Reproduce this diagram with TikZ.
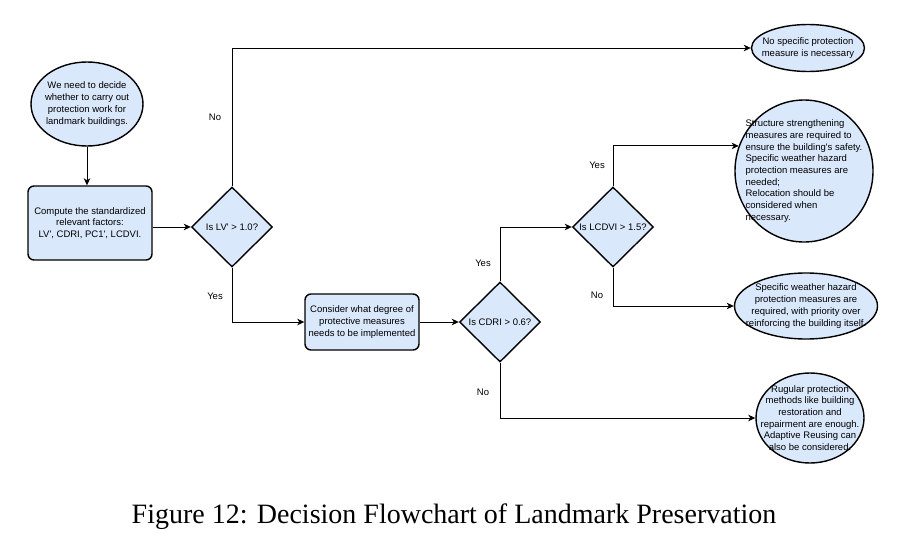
\documentclass[tikz,border=0pt]{standalone}
\usepackage{fontspec}
\setmainfont{Liberation Sans}[Ligatures=TeXOff]
\newfontfamily\capfont{Liberation Serif}
\usetikzlibrary{shapes.geometric,arrows.meta}
\definecolor{fillblue}{HTML}{DAE8FC}
\begin{document}
\begin{tikzpicture}[x=1pt,y=-1pt,
  txt/.style={font=\fontsize{9.5}{11.7}\selectfont, align=center, inner sep=0pt},
  lbl/.style={font=\fontsize{9.5}{11.7}\selectfont, inner sep=0pt},
  term/.style={ellipse, draw, line width=1.4pt, fill=fillblue, inner sep=0pt},
  proc/.style={rectangle, rounded corners=6pt, draw, line width=1.4pt, fill=fillblue, inner sep=0pt},
  decide/.style={diamond, draw, line width=1.4pt, fill=fillblue, inner sep=0pt, minimum width=81pt, minimum height=80pt},
  conn/.style={draw, line width=0.9pt, -{Stealth[length=7pt,width=6.5pt,inset=2pt]}}]
\useasboundingbox (0,0) rectangle (905,546);

% nodes
\node[term, minimum width=112pt, minimum height=84pt] (e1) at (87,104) {};
\node[txt] (e1t) at (e1.center) {We need to decide\\whether to carry out\\protection work for\\landmark buildings.};

\node[proc, minimum width=124pt, minimum height=74pt] (b1) at (90,223) {};
\node[txt] (b1t) at (b1.center) {Compute the standardized\\relevant factors:\\LV', CDRI, PC1', LCDVI.};

\node[decide] (d1) at (232,227) {};
\node[txt] (d1t) at (d1.center) {Is LV' > 1.0?};

\node[proc, minimum width=114pt, minimum height=56pt] (b2) at (362,322) {};
\node[txt] (b2t) at (b2.center) {Consider what degree of\\protective measures\\needs to be implemented};

\node[decide] (d2) at (500,322) {};
\node[txt] (d2t) at (d2.center) {Is CDRI > 0.6?};

\node[decide] (d3) at (613,227) {};
\node[txt] (d3t) at (d3.center) {Is LCDVI > 1.5?};

\node[term, minimum width=113pt, minimum height=47pt] (n1) at (808,48) {};
\node[txt] (n1t) at (n1.center) {No specific protection\\measure is necessary};

\node[term, minimum width=138pt, minimum height=142pt] (e2) at (804,171) {};
\node[txt, align=left] (e2t) at (e2.center) {Structure strengthening\\measures are required to\\ensure the building's safety.\\Specific weather hazard\\protection measures are\\needed;\\Relocation should be\\considered when\\necessary.};

\node[term, minimum width=143pt, minimum height=66pt] (e3) at (806,306) {};
\node[txt] (e3t) at (e3.center) {Specific weather hazard\\protection measures are\\required, with priority over\\reinforcing the building itself.};

\node[term, minimum width=108pt, minimum height=90pt] (e4) at (810,418) {};
\node[txt] (e4t) at (e4.center) {Rugular protection\\methods like building\\restoration and\\repairment are enough.\\Adaptive Reusing can\\also be considered.};

% connectors
\draw[conn] (e1.south) -- (e1.south |- b1.north);
\draw[conn] (b1.east |- d1.west) -- (d1.west);
\draw[conn] (d1.north) |- (n1.west);
\draw[conn] (d1.south) |- (b2.west);
\draw[conn] (b2.east) -- (d2.west);
\draw[conn] (d2.north) |- (d3.west);
\draw[conn] (d3.north) |- (e2.159);
\draw[conn] (d3.south) |- (e3.west);
\draw[conn] (d2.south) |- (e4.west);

% labels
\node[lbl] (l1) at (215,117) {No};
\node[lbl] (l2) at (215,296) {Yes};
\node[lbl] (l3) at (483,263) {Yes};
\node[lbl] (l4) at (483,392) {No};
\node[lbl] (l5) at (597,165) {Yes};
\node[lbl] (l6) at (597,295) {No};

% caption
\node[font=\capfont\fontsize{28}{33}\selectfont, inner sep=0pt] (cap) at (454,517) {Figure 12: Decision Flowchart of Landmark Preservation};
\end{tikzpicture}
\end{document}
